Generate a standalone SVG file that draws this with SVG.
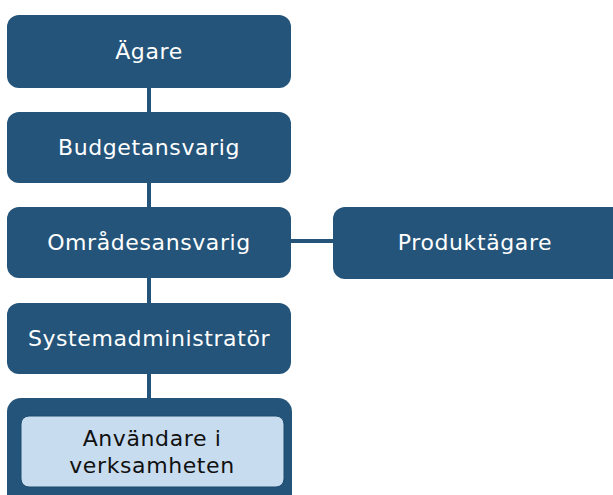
<svg xmlns="http://www.w3.org/2000/svg" width="613" height="495" viewBox="0 0 613 495">
<style>
.n{fill:#245479;}
.t{font-family:"DejaVu Sans",sans-serif;font-size:22px;letter-spacing:0.6px;fill:#ffffff;text-anchor:middle;dominant-baseline:central;}
.d{fill:#111111;}
.c{stroke:#245479;stroke-width:4;fill:none;}
</style>
<g id="connectors">
<line class="c" x1="149" y1="88" x2="149" y2="112"/>
<line class="c" x1="149" y1="183" x2="149" y2="207"/>
<line class="c" x1="149" y1="278" x2="149" y2="303"/>
<line class="c" x1="149" y1="374" x2="149" y2="398"/>
<line class="c" x1="291" y1="241" x2="333" y2="241"/>
</g>
<g id="agare"><rect class="n" x="7" y="15" width="284" height="73" rx="12"/><text class="t" x="149" y="51">Ägare</text></g>
<g id="budgetansvarig"><rect class="n" x="7" y="112" width="284" height="71" rx="12"/><text class="t" x="149" y="147">Budgetansvarig</text></g>
<g id="omradesansvarig"><rect class="n" x="7" y="207" width="284" height="71" rx="12"/><text class="t" x="149" y="242">Områdesansvarig</text></g>
<g id="produktagare"><rect class="n" x="333" y="207" width="292" height="72" rx="12"/><text class="t" x="475" y="242">Produktägare</text></g>
<g id="systemadministrator"><rect class="n" x="7" y="303" width="284" height="71" rx="12"/><text class="t" x="149" y="338">Systemadministratör</text></g>
<g id="anvandare"><rect class="n" x="7" y="398" width="285" height="110" rx="14"/>
<rect x="21" y="416" width="263" height="71" rx="8" fill="#c8dcef" stroke="#1d4a6d" stroke-width="1"/>
<text class="t d" x="152" y="438">Användare i</text><text class="t d" x="152" y="465">verksamheten</text></g>
</svg>
